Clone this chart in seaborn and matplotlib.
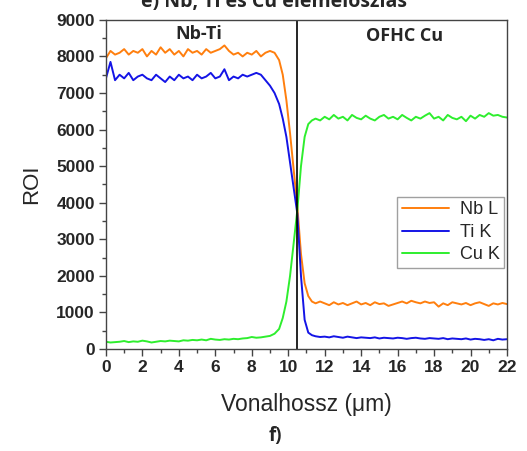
import pandas as pd
import numpy as np
import matplotlib
matplotlib.use('Agg')
import matplotlib.pyplot as plt
import seaborn as sns
from matplotlib.ticker import MultipleLocator

# mérési pontok (µm)
dist_um = [0, 0.25, 0.5, 0.75, 1, 1.25, 1.5, 1.75, 2, 2.25, 2.5, 2.75, 3, 3.25, 3.5, 3.75,
           4, 4.25, 4.5, 4.75, 5, 5.25, 5.5, 5.75, 6, 6.25, 6.5, 6.75, 7, 7.25, 7.5, 7.75,
           8, 8.25, 8.5, 8.75, 9, 9.25, 9.5,
           9.7, 9.9, 10.1, 10.3, 10.5, 10.7, 10.9, 11.1, 11.3,
           11.5, 11.75, 12, 12.25, 12.5, 12.75, 13, 13.25, 13.5, 13.75, 14, 14.25, 14.5, 14.75,
           15, 15.25, 15.5, 15.75, 16, 16.25, 16.5, 16.75, 17, 17.25, 17.5, 17.75, 18, 18.25,
           18.5, 18.75, 19, 19.25, 19.5, 19.75, 20, 20.25, 20.5, 20.75, 21, 21.25, 21.5, 21.75, 22]

nb_l = [7950, 8150, 8050, 8100, 8200, 8050, 8150, 8100, 8200, 8000, 8150, 8050, 8250, 8100, 8200, 8050,
        8150, 8000, 8200, 8100, 8150, 8050, 8200, 8100, 8150, 8200, 8300, 8150, 8050, 8100, 8000, 8100,
        8050, 8150, 8000, 8100, 8150, 8100, 7900,
        7500, 6800, 5900, 4900, 3900, 2600, 1800, 1450, 1300,
        1250, 1300, 1250, 1200, 1280, 1220, 1260, 1200, 1250, 1300, 1220, 1260, 1200, 1280,
        1230, 1250, 1180, 1220, 1260, 1300, 1250, 1320, 1280, 1250, 1300, 1260, 1280, 1160,
        1250, 1200, 1280, 1250, 1220, 1260, 1200, 1250, 1280, 1230, 1180, 1250, 1220, 1260, 1230]

ti_k = [7400, 7850, 7350, 7500, 7400, 7550, 7350, 7450, 7500, 7400, 7350, 7500, 7400, 7300, 7450, 7350,
        7500, 7400, 7450, 7350, 7500, 7400, 7450, 7550, 7400, 7450, 7650, 7350, 7450, 7400, 7500, 7450,
        7500, 7550, 7500, 7350, 7200, 7000, 6700,
        6300, 5800, 5100, 4400, 3700, 2000, 800, 450, 380,
        350, 330, 340, 320, 350, 330, 310, 340, 320, 300, 320, 310, 300, 320,
        290, 310, 300, 290, 310, 300, 280, 300, 310, 290, 280, 300, 290, 280,
        300, 270, 290, 280, 270, 290, 260, 280, 270, 250, 270, 240, 280, 260, 270]

cu_k = [200, 180, 190, 200, 220, 190, 210, 200, 230, 210, 180, 200, 220, 210, 230, 220,
        210, 240, 230, 250, 240, 260, 240, 280, 260, 250, 270, 260, 280, 270, 290, 300,
        330, 310, 320, 340, 360, 420, 550,
        850, 1300, 2000, 2900, 3800, 5000, 5800, 6150, 6250,
        6300, 6250, 6350, 6280, 6400, 6300, 6350, 6250, 6400, 6320, 6280, 6380, 6300, 6250,
        6350, 6400, 6300, 6350, 6280, 6400, 6320, 6250, 6350, 6300, 6380, 6450, 6300, 6350,
        6250, 6400, 6320, 6280, 6350, 6230, 6380, 6300, 6400, 6350, 6450, 6380, 6400, 6350, 6330]

series_names = ['Nb L', 'Ti K', 'Cu K']
colors = ['#ff7f0e', '#1414e6', '#2eee2e']

# hosszú formátumú tábla a seaborn számára
df = pd.DataFrame({'x': dist_um * 3,
                   'roi': nb_l + ti_k + cu_k,
                   'elem': [n for n in series_names for _ in dist_um]})

sns.set_style('ticks')
plt.rcParams['font.family'] = ['Liberation Sans', 'DejaVu Sans']

fig = plt.figure(figsize=(5.27, 4.51), dpi=100)
ax = fig.add_axes([0.201, 0.226, 0.761, 0.730])

sns.lineplot(data=df, x='x', y='roi', hue='elem', palette=colors, hue_order=series_names,
             linewidth=1.4, ax=ax)

# határfelület
ax.axvline(10.5, color='black', linewidth=1.2)

ax.set_xlim(0, 22)
ax.set_ylim(0, 9000)
ax.xaxis.set_major_locator(MultipleLocator(2))
ax.xaxis.set_minor_locator(MultipleLocator(1))
ax.yaxis.set_major_locator(MultipleLocator(1000))
ax.yaxis.set_minor_locator(MultipleLocator(500))
ax.tick_params(which='major', direction='out', length=5, width=1, color='#444444', pad=3)
ax.tick_params(which='minor', direction='out', length=3, width=1, color='#444444')
for lab in ax.get_xticklabels() + ax.get_yticklabels():
    lab.set_fontweight('bold')
    lab.set_fontsize(12.5)
for sp in ax.spines.values():
    sp.set_color('#444444')
    sp.set_linewidth(1)

ax.set_xlabel('Vonalhossz (\u03bcm)', fontsize=16.5, labelpad=13)
ax.set_ylabel('ROI', fontsize=16, labelpad=10)

ax.text(5.1, 8600, 'Nb-Ti', ha='center', va='center', fontsize=13, fontweight='bold',
        family=['Open Sans', 'DejaVu Sans'])
ax.text(16.4, 8550, 'OFHC Cu', ha='center', va='center', fontsize=13, fontweight='bold',
        family=['Open Sans', 'DejaVu Sans'])

leg = ax.legend(loc='upper right', bbox_to_anchor=(0.993, 0.462), fontsize=13,
                frameon=True, fancybox=False, handlelength=2.6, borderpad=0.25,
                labelspacing=0.3, handletextpad=0.6, borderaxespad=0)
leg.get_frame().set_edgecolor('#888888')
leg.get_frame().set_linewidth(1)
leg.set_title(None)

fig.text(0.52, 0.984, 'e) Nb, Ti és Cu elemeloszlás', ha='center', va='baseline',
         fontsize=14, fontweight='bold', family=['Open Sans', 'DejaVu Sans'])
fig.text(0.522, 0.01, 'f)', ha='center', va='bottom', fontsize=13.5, fontweight='bold',
         family=['Open Sans', 'DejaVu Sans'])

fig.savefig('out.png', dpi=100)
